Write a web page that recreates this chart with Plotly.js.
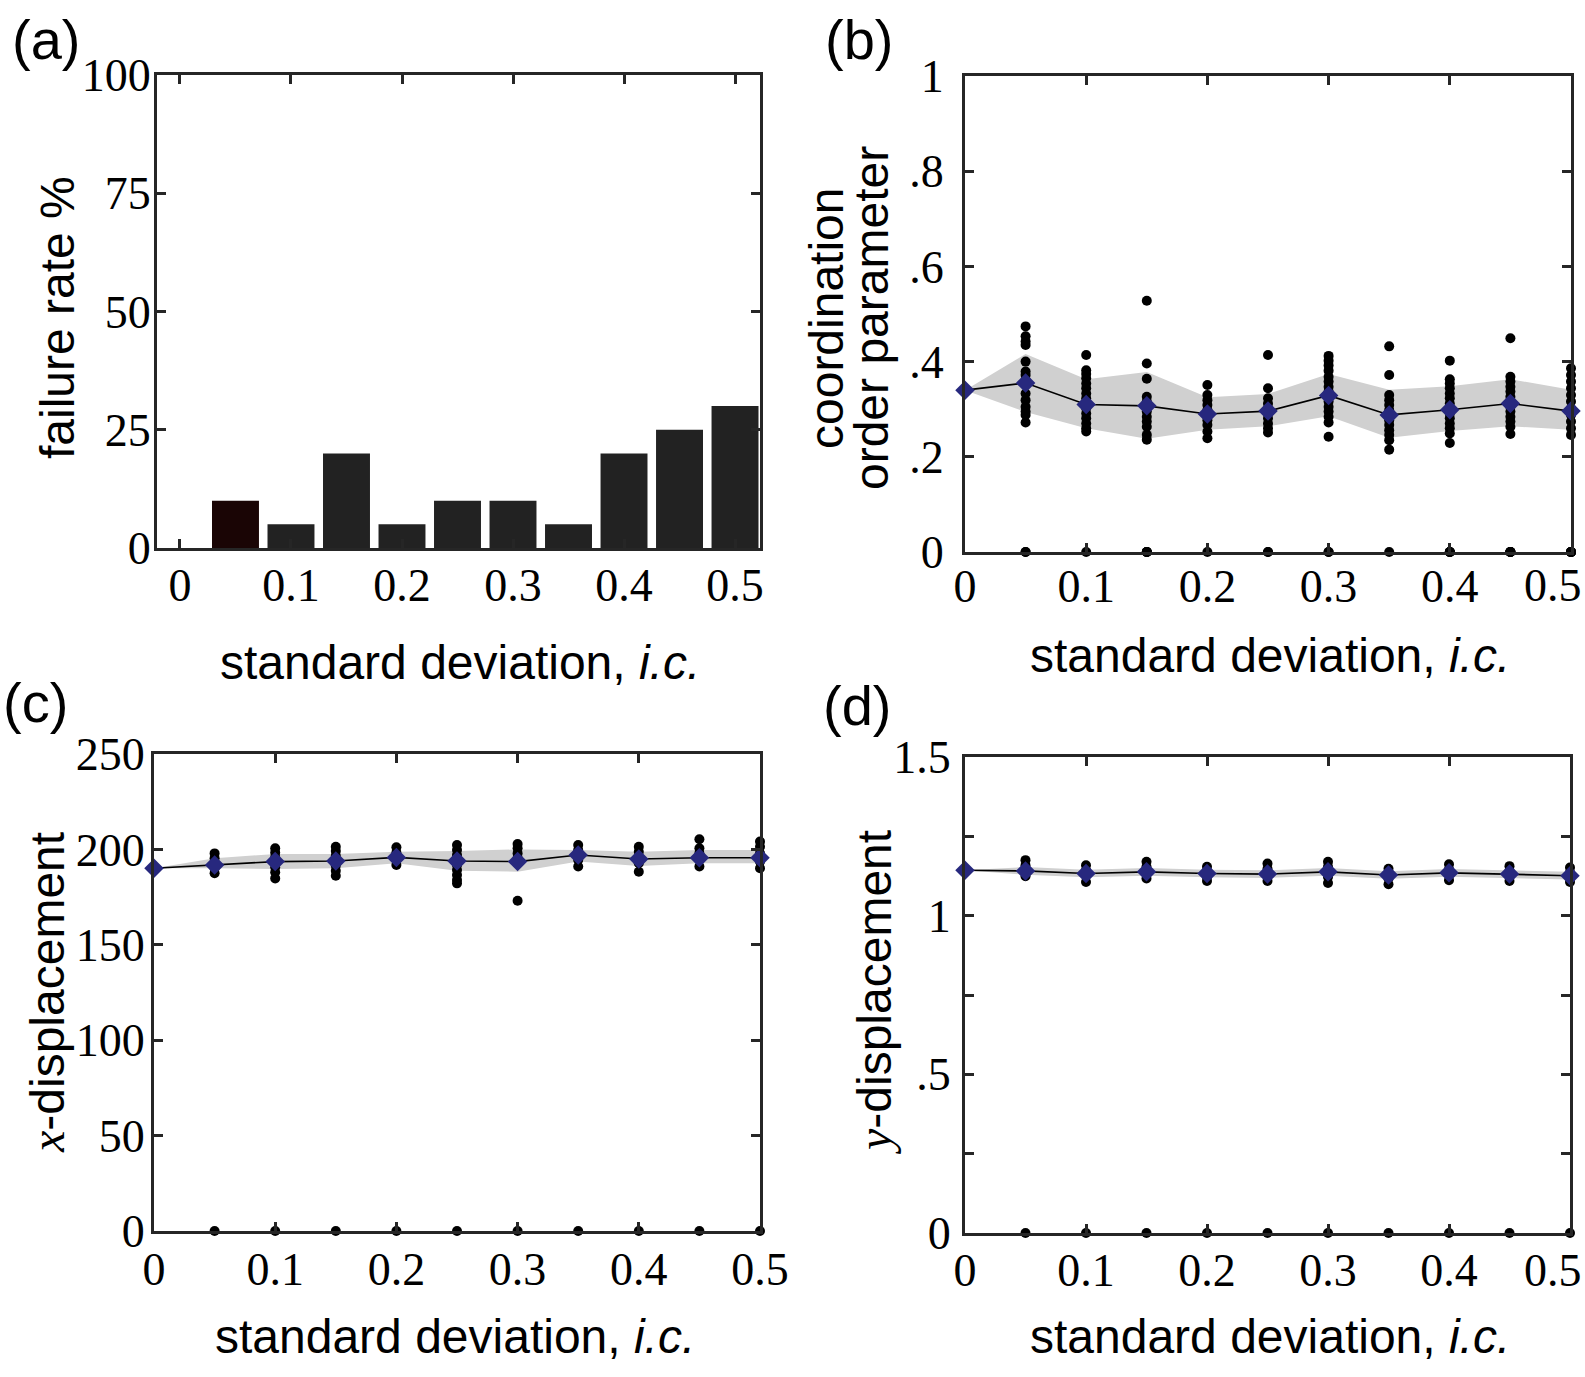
<!DOCTYPE html>
<html>
<head>
<meta charset="utf-8">
<script src="https://cdn.plot.ly/plotly-3.0.1.min.js"></script>
<style>
  body { margin: 0; background: #fff; }
  #fig { width: 1585px; height: 1377px; }
</style>
</head>
<body>
<div id="fig"></div>
<script>
// noise levels (standard deviation of initial conditions)
const sdLevels = [0, 0.05, 0.1, 0.15, 0.2, 0.25, 0.3, 0.35, 0.4, 0.45, 0.5];
const xTickVals = [0, 0.1, 0.2, 0.3, 0.4, 0.5];
const xTickText = ['0', '0.1', '0.2', '0.3', '0.4', '0.5'];
// right-hand panels sit on the page edge, so their last label is placed by hand
const xTickTextEdge = ['0', '0.1', '0.2', '0.3', '0.4', ''];

// (a) failure rate %
const failureRate = [0, 10, 5, 20, 5, 10, 10, 5, 20, 25, 30];

// (b) coordination order parameter: mean, shaded band, single runs (0 = failed run)
const orderMean  = [0.340, 0.355, 0.310, 0.307, 0.290, 0.296, 0.329, 0.288, 0.299, 0.312, 0.296];
const orderUpper = [0.340, 0.416, 0.363, 0.378, 0.325, 0.332, 0.374, 0.341, 0.348, 0.363, 0.341];
const orderLower = [0.340, 0.294, 0.260, 0.238, 0.257, 0.264, 0.285, 0.240, 0.254, 0.264, 0.257];
const orderRuns = [
  [],
  [0.474, 0.453, 0.442, 0.435, 0.400, 0.379, 0.372, 0.361, 0.354, 0.333, 0.319, 0.305, 0.295, 0.288, 0.272, 0, 0],
  [0.414, 0.382, 0.374, 0.365, 0.354, 0.344, 0.333, 0.323, 0.312, 0.302, 0.291, 0.281, 0.270, 0.260, 0.253, 0],
  [0.528, 0.396, 0.364, 0.326, 0.316, 0.305, 0.295, 0.284, 0.274, 0.263, 0.246, 0.236, 0, 0, 0, 0],
  [0.351, 0.330, 0.319, 0.309, 0.298, 0.288, 0.277, 0.267, 0.253, 0.239, 0],
  [0.414, 0.344, 0.323, 0.312, 0.302, 0.291, 0.281, 0.270, 0.260, 0.251, 0, 0],
  [0.412, 0.402, 0.392, 0.381, 0.368, 0.358, 0.347, 0.337, 0.326, 0.316, 0.305, 0.295, 0.284, 0.272, 0.242, 0, 0],
  [0.432, 0.372, 0.330, 0.319, 0.309, 0.298, 0.288, 0.277, 0.267, 0.256, 0.246, 0.235, 0.215, 0],
  [0.402, 0.363, 0.354, 0.344, 0.333, 0.323, 0.312, 0.302, 0.291, 0.281, 0.270, 0.260, 0.249, 0.229, 0, 0, 0, 0],
  [0.449, 0.368, 0.358, 0.347, 0.337, 0.326, 0.316, 0.305, 0.295, 0.284, 0.274, 0.263, 0.248, 0, 0, 0, 0, 0],
  [0.386, 0.372, 0.358, 0.344, 0.330, 0.316, 0.302, 0.288, 0.274, 0.260, 0.246, 0, 0, 0, 0, 0, 0]
];

// (c) x-displacement
const dispXMean  = [190.1, 191.8, 193.6, 193.9, 195.8, 193.9, 193.6, 197.1, 195.0, 195.6, 195.6];
const dispXUpper = [190.1, 195.3, 197.6, 197.6, 198.8, 199.2, 200.0, 199.7, 198.8, 199.7, 199.7];
const dispXLower = [190.1, 190.1, 189.7, 190.1, 192.7, 188.8, 188.3, 193.6, 191.3, 192.7, 192.7];
const dispXRuns = [
  [],
  [197.9, 195.3, 192.7, 190.1, 187.5, 0],
  [200.6, 198.3, 195.8, 193.2, 190.6, 188.0, 184.8, 0],
  [201.4, 199.2, 196.7, 194.1, 191.5, 188.8, 186.2, 0],
  [201.1, 198.3, 195.3, 191.8, 0],
  [202.3, 199.7, 197.1, 194.5, 191.8, 189.2, 186.6, 183.9, 182.2, 0],
  [202.8, 200.6, 197.9, 195.3, 192.7, 173.1, 0],
  [202.3, 199.7, 197.1, 194.5, 191.0, 0],
  [201.4, 198.8, 195.8, 192.7, 188.3, 0],
  [205.3, 200.6, 197.9, 194.8, 191.0, 0],
  [204.1, 201.4, 197.9, 193.6, 190.1, 0]
];

// (d) y-displacement
const dispYMean  = [1.143, 1.141, 1.133, 1.138, 1.133, 1.131, 1.138, 1.128, 1.135, 1.131, 1.126];
const dispYUpper = [1.143, 1.153, 1.145, 1.150, 1.145, 1.143, 1.150, 1.140, 1.147, 1.143, 1.138];
const dispYLower = [1.143, 1.129, 1.121, 1.126, 1.121, 1.119, 1.126, 1.116, 1.123, 1.119, 1.114];
const dispYRuns = [
  [],
  [1.175, 1.159, 1.141, 1.124, 0],
  [1.159, 1.143, 1.127, 1.106, 0],
  [1.170, 1.154, 1.138, 1.117, 0],
  [1.154, 1.138, 1.122, 1.109, 0],
  [1.164, 1.148, 1.131, 1.109, 0],
  [1.170, 1.154, 1.138, 1.122, 1.103, 0],
  [1.148, 1.133, 1.117, 1.099, 0],
  [1.162, 1.146, 1.131, 1.112, 0],
  [1.156, 1.141, 1.124, 1.109, 0],
  [1.152, 1.136, 1.120, 1.106, 0]
];

const AXIS_COLOR = '#262626';
const BAND_COLOR = '#d0d0d0';
const MEAN_COLOR = '#27287e';
const tickFont = { family: 'Liberation Serif, Times New Roman, serif', size: 46, color: '#000' };
const labelFont = { family: 'Liberation Sans, Arial, sans-serif', size: 48, color: '#000' };

// mean line + band + individual runs for one panel
function summaryTraces(mean, upper, lower, runs, xa, ya) {
  const runX = [], runY = [];
  runs.forEach((vals, i) => vals.forEach(v => { runX.push(sdLevels[i]); runY.push(v); }));
  return [
    {
      x: sdLevels.concat(sdLevels.slice().reverse()),
      y: upper.concat(lower.slice().reverse()),
      xaxis: xa, yaxis: ya, type: 'scatter', mode: 'lines',
      fill: 'toself', fillcolor: BAND_COLOR, line: { width: 0 },
      hoverinfo: 'skip'
    },
    {
      x: runX, y: runY, xaxis: xa, yaxis: ya, type: 'scatter', mode: 'markers',
      marker: { color: '#000', size: 10 }, cliponaxis: false
    },
    {
      x: sdLevels, y: mean, xaxis: xa, yaxis: ya, type: 'scatter', mode: 'lines',
      line: { color: '#000', width: 1.6 }, cliponaxis: false
    },
    {
      x: sdLevels, y: mean, xaxis: xa, yaxis: ya, type: 'scatter', mode: 'markers',
      marker: { symbol: 'diamond', color: MEAN_COLOR, size: 15, line: { width: 0 } },
      cliponaxis: false
    }
  ];
}

const barColors = failureRate.map((v, i) => (i === 1 ? '#1a0505' : '#222222'));

const traces = [
  {
    x: sdLevels, y: failureRate, type: 'bar', width: 0.0423,
    marker: { color: barColors, line: { width: 0 } },
    xaxis: 'x', yaxis: 'y'
  }
].concat(
  summaryTraces(orderMean, orderUpper, orderLower, orderRuns, 'x2', 'y2'),
  summaryTraces(dispXMean, dispXUpper, dispXLower, dispXRuns, 'x3', 'y3'),
  summaryTraces(dispYMean, dispYUpper, dispYLower, dispYRuns, 'x4', 'y4')
);

function axis(domain, range, tickvals, ticktext, anchor, standoff) {
  return {
    domain: domain, range: range, anchor: anchor,
    tickmode: 'array', tickvals: tickvals, ticktext: ticktext,
    ticks: 'inside', ticklen: 9, tickwidth: 3, tickcolor: AXIS_COLOR,
    showline: true, linewidth: 3, linecolor: AXIS_COLOR, mirror: 'ticks',
    showgrid: false, zeroline: false, fixedrange: true,
    tickfont: tickFont, ticklabelstandoff: standoff,
    automargin: false
  };
}

const px = v => v / 1585;
const py = v => 1 - v / 1377;

const layout = {
  width: 1585, height: 1377,
  margin: { l: 0, r: 0, t: 0, b: 0 },
  paper_bgcolor: '#fff', plot_bgcolor: '#fff',
  showlegend: false,
  xaxis:  axis([px(157), px(760)], [-0.0207, 0.5225], xTickVals, xTickText, 'y', -5),
  yaxis:  axis([py(548), py(75)], [0, 100], [0, 25, 50, 75, 100], ['0', '25', '50', '75', '100'], 'x', -6),
  xaxis2: axis([px(965), px(1571)], [0, 0.5], xTickVals, xTickTextEdge, 'y2', -8),
  yaxis2: axis([py(552), py(76)], [0, 1], [0, 0.2, 0.4, 0.6, 0.8, 1], ['0', '.2', '.4', '.6', '.8', '1'], 'x2', 9),
  xaxis3: axis([px(154), px(760)], [0, 0.5], xTickVals, xTickText, 'y3', -4),
  yaxis3: axis([py(1231), py(754)], [0, 250], [0, 50, 100, 150, 200, 250], ['0', '50', '100', '150', '200', '250'], 'x3', -3),
  xaxis4: axis([px(965), px(1570)], [0, 0.5], xTickVals, xTickTextEdge, 'y4', -5),
  yaxis4: axis([py(1233), py(757)], [0, 1.5], [0, 0.25, 0.5, 0.75, 1, 1.25, 1.5], ['0', '', '.5', '', '1', '', '1.5'], 'x4', 2),
  annotations: []
};

function note(text, x, y, opts) {
  return Object.assign({
    text: text, x: px(x), y: py(y), xref: 'paper', yref: 'paper',
    xanchor: 'center', yanchor: 'middle', showarrow: false, font: labelFont
  }, opts || {});
}

const bigFont = { family: 'Liberation Sans, Arial, sans-serif', size: 56, color: '#000' };
const serifX = '<span style="font-family:Liberation Serif"><i>x</i></span>';
const serifY = '<span style="font-family:Liberation Serif"><i>y</i></span>';

layout.annotations.push(
  note('(a)', 46, 40, { font: bigFont }),
  note('(b)', 859, 40, { font: bigFont }),
  note('(c)', 35, 702, { font: bigFont }),
  note('(d)', 857, 705, { font: bigFont }),
  note('0.5', 1584, 586, { font: tickFont, xanchor: 'right' }),
  note('0.5', 1584, 1270, { font: tickFont, xanchor: 'right' }),
  note('standard deviation, <i>i.c.</i>', 460, 662),
  note('standard deviation, <i>i.c.</i>', 1270, 655),
  note('standard deviation, <i>i.c.</i>', 455, 1336),
  note('standard deviation, <i>i.c.</i>', 1270, 1336),
  note('failure rate %', 57, 318, { textangle: -90 }),
  note('coordination', 826, 318, { textangle: -90 }),
  note('order parameter', 871, 318, { textangle: -90 }),
  note(serifX + '-displacement', 47, 993, { textangle: -90 }),
  note(serifY + '-displacement', 874, 993, { textangle: -90 })
);

Plotly.newPlot('fig', traces, layout, { staticPlot: true });
</script>
</body>
</html>
